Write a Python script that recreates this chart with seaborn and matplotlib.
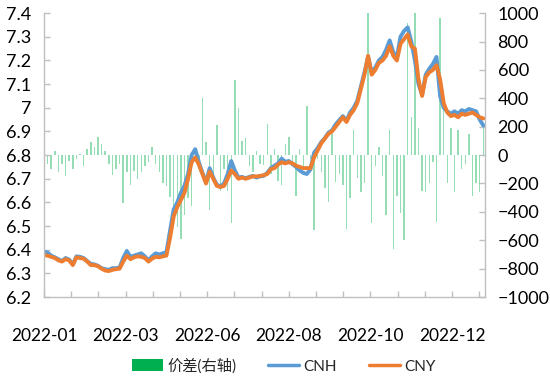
import numpy as np
import pandas as pd
import matplotlib
matplotlib.use("Agg")
import matplotlib.pyplot as plt
import seaborn as sns
from matplotlib.patches import Patch
from matplotlib.lines import Line2D

cny = [6.377, 6.375, 6.370, 6.365, 6.355, 6.350, 6.360, 6.355, 6.335, 6.368,
       6.365, 6.362, 6.350, 6.335, 6.335, 6.330, 6.320, 6.312, 6.310, 6.315,
       6.318, 6.320, 6.350, 6.375, 6.360, 6.368, 6.372, 6.370, 6.365, 6.350,
       6.362, 6.370, 6.368, 6.372, 6.375, 6.450, 6.540, 6.580, 6.610, 6.640,
       6.700, 6.770, 6.790, 6.760, 6.720, 6.680, 6.730, 6.700, 6.670, 6.665,
       6.670, 6.700, 6.735, 6.720, 6.700, 6.705, 6.700, 6.705, 6.710, 6.710,
       6.712, 6.715, 6.720, 6.740, 6.745, 6.760, 6.770, 6.765, 6.770, 6.765,
       6.755, 6.750, 6.745, 6.745, 6.745, 6.790, 6.820, 6.850, 6.870, 6.890,
       6.900, 6.920, 6.940, 6.960, 6.940, 6.970, 6.990, 7.020, 7.080, 7.140,
       7.220, 7.140, 7.160, 7.190, 7.200, 7.220, 7.260, 7.220, 7.200, 7.270,
       7.290, 7.310, 7.260, 7.250, 7.120, 7.050, 7.130, 7.150, 7.160, 7.180,
       7.120, 7.020, 6.980, 6.965, 6.970, 6.960, 6.975, 6.970, 6.975, 6.980,
       6.970, 6.960, 6.955]

cnh = [6.392, 6.388, 6.375, 6.368, 6.360, 6.352, 6.365, 6.358, 6.338, 6.372,
       6.370, 6.365, 6.352, 6.340, 6.338, 6.332, 6.322, 6.318, 6.315, 6.322,
       6.322, 6.325, 6.365, 6.395, 6.370, 6.375, 6.380, 6.385, 6.372, 6.355,
       6.372, 6.385, 6.380, 6.385, 6.390, 6.480, 6.570, 6.600, 6.640, 6.670,
       6.720, 6.800, 6.825, 6.770, 6.725, 6.685, 6.745, 6.705, 6.675, 6.668,
       6.680, 6.720, 6.775, 6.735, 6.705, 6.708, 6.702, 6.708, 6.712, 6.705,
       6.710, 6.712, 6.725, 6.745, 6.755, 6.765, 6.785, 6.772, 6.775, 6.762,
       6.750, 6.735, 6.725, 6.720, 6.740, 6.810, 6.830, 6.855, 6.872, 6.895,
       6.905, 6.930, 6.948, 6.965, 6.945, 6.980, 7.000, 7.030, 7.090, 7.150,
       7.215, 7.150, 7.170, 7.200, 7.215, 7.245, 7.285, 7.235, 7.215, 7.300,
       7.325, 7.340, 7.280, 7.200, 7.100, 7.055, 7.140, 7.165, 7.185, 7.215,
       7.050, 7.000, 6.985, 6.975, 6.985, 6.975, 6.990, 6.985, 6.995, 6.990,
       6.985, 6.950, 6.925]

spread = [-170, -60, -100, 30, -120, -60, -150, -40, -100, -30,
          10, -80, 40, 90, 60, 125, 80, 30, -60, -140,
          -100, -60, -340, -120, -210, -110, -170, -120, -80, -50,
          60, -60, -120, -200, -220, -295, -410, -510, -590, -420,
          -300, -360, 50, -100, 400, 90, -390, -200, 210, -250,
          -100, -250, -480, 530, 330, 100, 120, -80, -120, 30,
          -60, -70, 220, -130, 40, -180, -210, 80, 130, -60,
          -290, 40, -80, 345, -30, -530, -30, -120, -230, -330,
          150, -190, -130, -210, -520, -300, 180, -160, -260, -200,
          1000, -480, -80, 60, -150, -420, 180, -660, -290, -410,
          -600, 930, 270, 1000, 190, -250, -260, -200, -50, -470,
          965, 460, -200, 190, -260, 180, -100, -60, 150, -290,
          -200, -260, 190]

tick_labels = ["2022-01", "2022-03", "2022-06", "2022-08", "2022-10", "2022-12"]

idx = list(range(len(cny)))
df = pd.DataFrame({"idx": idx, "CNY": cny, "CNH": cnh, "spread": spread})

sns.set_theme(style="white")
plt.rcParams["font.family"] = ["Lato", "Noto Sans CJK SC", "DejaVu Sans"]

fig = plt.figure(figsize=(5.5, 3.76), dpi=100)
ax = fig.add_axes([0.08, 0.21, 0.802, 0.755])
ax2 = ax.twinx()

sns.barplot(data=df, x="idx", y="spread", native_scale=True, ax=ax2,
            color="#00B050", alpha=0.42, width=0.4, linewidth=0, saturation=1)
sns.lineplot(data=df, x="idx", y="CNH", ax=ax, color="#5B9BD5", linewidth=2.8)
sns.lineplot(data=df, x="idx", y="CNY", ax=ax, color="#ED7D31", linewidth=2.8)

ax.set_zorder(ax2.get_zorder() + 1)
ax.patch.set_visible(False)

ax.set_xlim(0, 122.5)
ax2.set_xlim(0, 122.5)
ax.set_ylim(6.2, 7.4)
ax2.set_ylim(-1000, 1000)
ax.set_yticks(np.arange(6.2, 7.41, 0.1))
ax.set_yticklabels(["6.2", "6.3", "6.4", "6.5", "6.6", "6.7", "6.8", "6.9", "7",
                    "7.1", "7.2", "7.3", "7.4"])
ax2.set_yticks(np.arange(-1000, 1001, 200))

ticks = [k * 7.556 for k in range(17)]
ax.set_xticks(ticks)
ax.set_xticklabels([tick_labels[k // 3] if k % 3 == 0 else "" for k in range(17)])
ax.set_xlabel("")
ax.set_ylabel("")
ax2.set_ylabel("")
ax2.set_xlabel("")

gray = "#BFBFBF"
for a in (ax, ax2):
    for s in a.spines.values():
        s.set_visible(False)
ax.spines["left"].set_visible(True)
ax.spines["bottom"].set_visible(True)
ax2.spines["right"].set_visible(True)
for s in (ax.spines["left"], ax.spines["bottom"], ax2.spines["right"]):
    s.set_color(gray)
    s.set_linewidth(1.0)

ax.tick_params(axis="y", direction="in", length=4, color=gray, width=1,
               labelsize=13, pad=9, left=True, labelcolor="#000000")
ax.tick_params(axis="x", direction="in", length=4, color=gray, width=1,
               labelsize=12.5, pad=22, bottom=True, labelcolor="#000000")
ax2.tick_params(axis="y", direction="in", length=4, color=gray, width=1,
                labelsize=13, pad=9, right=True, labelcolor="#000000")
ax2.tick_params(axis="x", bottom=False, labelbottom=False)

handles = [Patch(facecolor="#00B050", edgecolor="none"),
           Line2D([0], [0], color="#5B9BD5", lw=2.5),
           Line2D([0], [0], color="#ED7D31", lw=2.5)]
fig.legend(handles, ["价差(右轴)", "CNH", "CNY"], loc="center",
           bbox_to_anchor=(0.516, 0.027), ncol=3, frameon=False,
           fontsize=11, handlelength=2.0, handleheight=0.8,
           columnspacing=2.1, handletextpad=0.3)

fig.savefig("out.png", dpi=100)
